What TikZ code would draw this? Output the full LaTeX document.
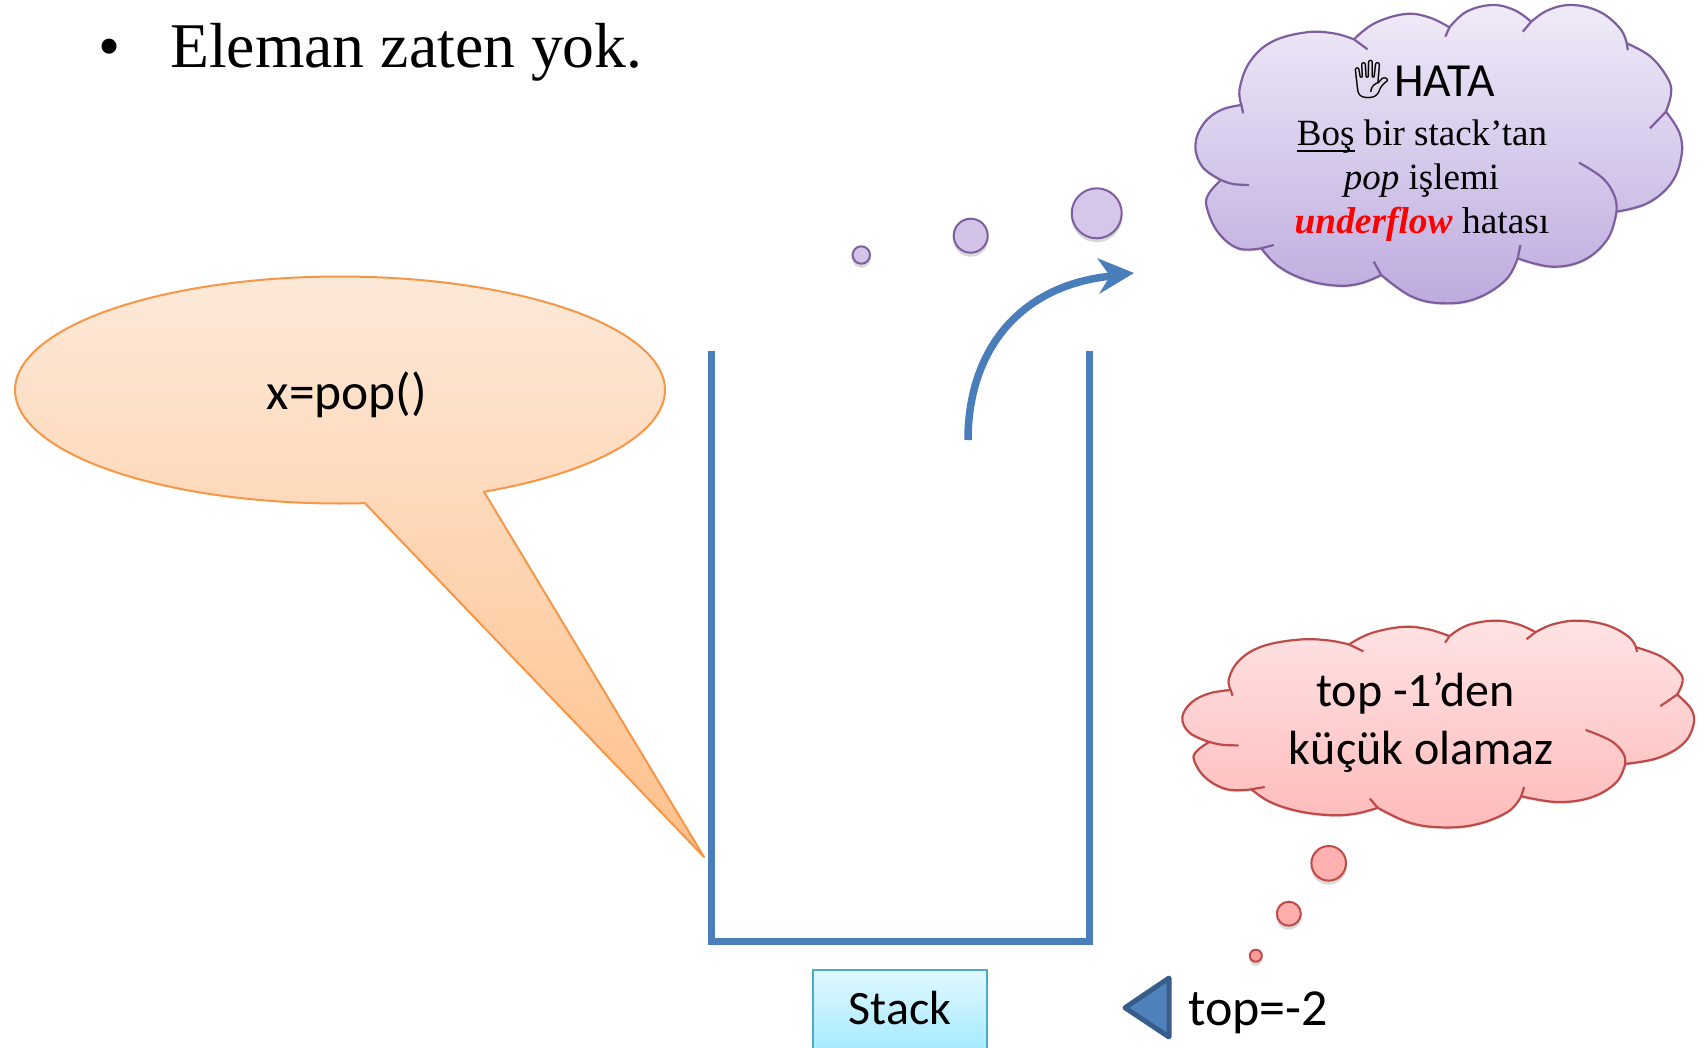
\documentclass[tikz,border=0pt]{standalone}
\usepackage{fontspec}
\usetikzlibrary{calc}
\setmainfont{Liberation Serif}
\newfontfamily\carl{Carlito}
\newfontfamily\emojifont{Noto Emoji}
\definecolor{blueline}{HTML}{4A7EBB}
\definecolor{purpleline}{HTML}{7D5F9F}
\definecolor{redline}{HTML}{BE4B48}
\definecolor{orangeline}{HTML}{F79646}
\definecolor{orangetop}{HTML}{FDE9D9}
\definecolor{orangebot}{HTML}{FFC08A}
\definecolor{pbubA}{HTML}{D6C6EA}
\definecolor{pbubB}{HTML}{D4C3E9}
\definecolor{ptop}{HTML}{F0EBF8}
\definecolor{pbot}{HTML}{BEABDF}
\definecolor{rtop}{HTML}{FFE3E4}
\definecolor{rbot}{HTML}{FFBBBB}
\definecolor{rbubA}{HTML}{FFB0B0}
\definecolor{rbubB}{HTML}{FFADAD}
\definecolor{rbubC}{HTML}{FF9E9E}
\definecolor{boxline}{HTML}{4BACC6}
\definecolor{boxtop}{HTML}{E0F8FF}
\definecolor{boxbot}{HTML}{A4EAFF}
\definecolor{trifill}{HTML}{4F81BD}
\definecolor{triline}{HTML}{385D8A}
\newcommand{\fs}[1]{\fontsize{#1}{#1}\selectfont}
\newcommand{\ulbos}[1]{\setbox0\hbox{#1}\rlap{\rule[-7pt]{\wd0}{1.8pt}}\box0\relax}
\newcommand{\cloudoutline}{
  plot[smooth,tension=.65] coordinates {(210,315)(205,265)(235,185)(300,125)(400,97)(480,100)(540,118)}
  -- plot[smooth,tension=.65] coordinates {(540,118)(600,70)(690,42)(760,52)(820,82)}
  -- plot[smooth,tension=.65] coordinates {(820,82)(870,35)(945,15)(1010,30)(1060,65)}
  -- plot[smooth,tension=.65] coordinates {(1060,65)(1110,30)(1180,15)(1260,35)(1320,85)(1340,130)}
  -- plot[smooth,tension=.65] coordinates {(1340,130)(1410,170)(1460,235)(1470,280)(1455,335)}
  -- plot[smooth,tension=.65] coordinates {(1455,335)(1495,400)(1500,470)(1470,550)(1400,610)(1310,635)}
  -- plot[smooth,tension=.65] coordinates {(1310,635)(1285,715)(1215,780)(1120,800)(1020,775)}
  -- plot[smooth,tension=.65] coordinates {(1020,775)(985,840)(900,895)(805,910)(710,890)(620,825)}
  -- plot[smooth,tension=.65] coordinates {(620,825)(560,850)(490,857)(400,840)(320,800)(268,745)}
  -- plot[smooth,tension=.65] coordinates {(268,745)(200,745)(140,695)(108,620)(115,580)(150,540)}
  -- plot[smooth,tension=.65] coordinates {(150,540)(95,500)(75,435)(100,370)(150,330)(210,315)}
  -- cycle}
\newcommand{\cloudinner}{
  (540,118) -- (580,148)
  (820,82) -- (808,110)
  (1060,65) -- (1035,95)
  (1340,130) -- (1343,150)
  (1455,335) -- (1408,385)
  plot[smooth,tension=.65] coordinates {(1310,635)(1305,590)(1270,535)(1200,488)}
  (1020,775) -- (1028,735)
  (620,825) -- (598,785)
  (268,745) -- (305,735)
  plot[smooth,tension=.65] coordinates {(150,540)(185,552)(232,555)}
  (210,315) -- (215,340)}
\tikzset{
  softshade/.style={fill=black,fill opacity=.07,draw=none},
  wall/.style={draw=blueline,line width=7pt,line cap=butt},
  pbubble/.style={circle,inner sep=0pt,draw=purpleline,line width=2pt,fill=#1},
  rbubble/.style={circle,inner sep=0pt,draw=redline,line width=2pt,fill=#1},
  base text/.style={anchor=base,inner sep=0pt,text=black},
  flow/.style={draw=blueline,line width=7.5pt},
}
\begin{document}
\begin{tikzpicture}[x=1pt,y=-1pt]
\useasboundingbox (0,0) rectangle (1704,1047);
\clip (0,0) rectangle (1704,1047);
\fill[white] (0,0) rectangle (1704,1047);

% title
\node[base text,anchor=base] (bullet) at (110,67) {\fs{63}•};
\node[base text,anchor=base west] (title) at (170,67) {\fs{63.7}Eleman zaten yok.};

% callout
\path[draw=orangeline,line width=2pt,line join=round,top color=orangetop,bottom color=orangebot]
  plot[domain=63.7:-274.4,samples=160] ({340+325*cos(\x)},{390+113.5*sin(\x)})
  -- (704,857) -- cycle;
\node[base text] (xpop) at (347,409) {\carl\fs{51.5}x=pop()};

% stack
\coordinate (tl) at (711,351);
\coordinate (bl) at (711,941);
\coordinate (br) at (1089,941);
\coordinate (tr) at (1089,351);
\draw[wall] (tl) -- ($(bl)+(0,3.5)$);
\draw[wall] (bl) -- (br);
\draw[wall] (tr) -- ($(br)+(0,3.5)$);

% curved arrow
\coordinate (arrowstart) at (968,440);
\coordinate (arrowneck) at (1112,276);
\coordinate (arrowtip) at (1134,273);
\draw[flow] (arrowstart) .. controls (968,350) and (1020,285) .. (arrowneck);
\fill[blueline] (arrowtip) -- (1097,258) -- (1110,276) -- (1099,294) -- cycle;

% purple bubbles
\foreach \cx/\cy/\r in {1096.7/215.3/25,970.7/237.7/17,861.3/257/8.7}{
  \fill[black,opacity=.08] (\cx,\cy+1) circle (\r+1);
  \fill[black,opacity=.08] (\cx,\cy+2) circle (\r);
}
\node[pbubble=pbubA,minimum size=50pt] (pb1) at (1096.7,213.3) {};
\node[pbubble=pbubB,minimum size=34pt] (pb2) at (970.7,235.7) {};
\node[pbubble=pbubB,minimum size=17.4pt] (pb3) at (861.3,255) {};

% purple cloud
\begin{scope}[shift={(1169.8,0)},x=.341pt,y=-.33333pt]
  \foreach \d in {2,4,6}{
    \path[softshade,shift={(0,\d)}] \cloudoutline;
  }
  \path[draw=purpleline,line width=2.2pt,line join=round,top color=ptop,bottom color=pbot] \cloudoutline;
  \draw[purpleline,line width=2.2pt] \cloudinner;
\end{scope}
\node[base text,anchor=base] (hand) at (1371.4,92) {\emojifont\fs{38}🖐};
\node[base text,anchor=base west] (hata) at (1394,96) {\carl\fs{47.5}HATA};
\node[base text] (l1) at (1422,145) {\fs{37}\ulbos{Boş} bir stack’tan};
\node[base text] (l2) at (1421.5,189) {\fs{37}\textit{pop} işlemi};
\node[base text] (l3) at (1422,233.7) {\fs{37.4}\textcolor{red}{\textbf{\textit{underflow}}} hatası};

% red cloud
\begin{scope}[shift={(1155.4,617.2)},x=.3586pt,y=-.231pt]
  \foreach \d in {3,6,9}{
    \path[softshade,shift={(0,\d)}] \cloudoutline;
  }
  \path[draw=redline,line width=2.2pt,line join=round,top color=rtop,bottom color=rbot] \cloudoutline;
  \draw[redline,line width=2.2pt] \cloudinner;
\end{scope}
\node[base text] (t1) at (1415.5,706) {\carl\fs{48}top -1’den};
\node[base text] (t2) at (1421.4,764) {\carl\fs{48}küçük olamaz};

% red bubbles
\foreach \cx/\cy/\r in {1328.7/865.3/17.3,1288.8/915.7/12,1255.8/957.7/6}{
  \fill[black,opacity=.08] (\cx,\cy+1) circle (\r+1);
  \fill[black,opacity=.08] (\cx,\cy+2) circle (\r);
}
\node[rbubble=rbubA,minimum size=34.6pt] (rb1) at (1328.7,863.3) {};
\node[rbubble=rbubB,minimum size=24pt] (rb2) at (1288.8,913.7) {};
\node[rbubble=rbubC,minimum size=12pt] (rb3) at (1255.8,955.7) {};

% stack label
\path[draw=boxline,line width=2pt,top color=boxtop,bottom color=boxbot] (813,970) rectangle (987,1052);
\node[base text] (stack) at (900,1024) {\carl\fs{48}Stack};

% top marker
\path[fill=trifill,draw=triline,line width=5pt,line join=round] (1125,1007.7) -- (1169,978) -- (1169,1037) -- cycle;
\node[base text,anchor=base west] (top) at (1188,1025) {\carl\fs{52}top=-2};
\end{tikzpicture}
\end{document}
